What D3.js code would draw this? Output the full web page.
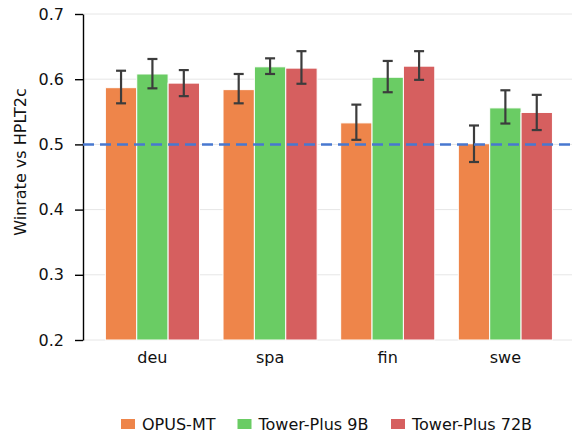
<!DOCTYPE html>
<html>
    <head>
        <meta charset="utf-8" />
        <title>Winrate vs HPLT2c</title>
        <script src="https://d3js.org/d3.v7.min.js"></script>
        <style>
            body { margin: 0; background: white; }
            text { font-family: "DejaVu Sans", sans-serif; }
        </style>
    </head>
    <body>
        <svg width="573" height="434" id="chart"></svg>

        <script>
            // categories and series
            var languages = ["deu", "spa", "fin", "swe"];
            var models = ["OPUS-MT", "Tower-Plus 9B", "Tower-Plus 72B"];
            var modelColors = ["#ee854a", "#6acc64", "#d65f5f"];

            var opusMean = [0.587, 0.584, 0.533, 0.501];
            var opusLow  = [0.563, 0.563, 0.507, 0.473];
            var opusHigh = [0.613, 0.608, 0.561, 0.529];

            var tp9Mean = [0.608, 0.619, 0.603, 0.556];
            var tp9Low  = [0.586, 0.608, 0.580, 0.532];
            var tp9High = [0.631, 0.632, 0.628, 0.583];

            var tp72Mean = [0.594, 0.617, 0.620, 0.549];
            var tp72Low  = [0.574, 0.593, 0.599, 0.522];
            var tp72High = [0.614, 0.643, 0.643, 0.576];

            var yTicks = [0.2, 0.3, 0.4, 0.5, 0.6, 0.7];
            var baseline = 0.5;

            // build rows for drawing
            var seriesMean = [opusMean, tp9Mean, tp72Mean];
            var seriesLow = [opusLow, tp9Low, tp72Low];
            var seriesHigh = [opusHigh, tp9High, tp72High];
            var rows = [];
            languages.forEach(function(lang, i) {
                models.forEach(function(m, j) {
                    rows.push({
                        lang: lang,
                        model: m,
                        value: seriesMean[j][i],
                        low: seriesLow[j][i],
                        high: seriesHigh[j][i]
                    });
                });
            });

            var svg = d3.select("#chart");
            // note: "top" is taken by window.top, so use plot* names
            var plotLeft = 83, plotRight = 572, plotTop = 14, plotBottom = 340;

            var y = d3.scaleLinear().domain([0.2, 0.7]).range([plotBottom, plotTop]);
            var x0 = d3.scaleBand().domain(languages).range([93.6, 564.2]);
            var bw = x0.bandwidth();
            var x1 = d3.scaleBand().domain(models).range([0.1 * bw, 0.9 * bw]);
            var color = d3.scaleOrdinal().domain(models).range(modelColors);

            // horizontal gridlines
            svg.append("g")
                .selectAll("line")
                .data(yTicks)
                .join("line")
                .attr("x1", plotLeft)
                .attr("x2", plotRight)
                .attr("y1", function(d) { return y(d); })
                .attr("y2", function(d) { return y(d); })
                .attr("stroke", "#e6e6e6")
                .attr("stroke-width", 1);

            // bars
            svg.append("g")
                .selectAll("rect")
                .data(rows)
                .join("rect")
                .attr("x", function(d) { return x0(d.lang) + x1(d.model); })
                .attr("width", x1.bandwidth())
                .attr("y", function(d) { return y(d.value); })
                .attr("height", function(d) { return y(0.2) - y(d.value); })
                .attr("fill", function(d) { return color(d.model); })
                .attr("stroke", "white")
                .attr("stroke-width", 1);

            // error bars
            var err = svg.append("g")
                .attr("stroke", "#3c3c3c")
                .attr("stroke-width", 2.2);
            var cx = function(d) { return x0(d.lang) + x1(d.model) + x1.bandwidth() / 2; };

            err.selectAll("line.whisker")
                .data(rows)
                .join("line")
                .attr("class", "whisker")
                .attr("x1", cx).attr("x2", cx)
                .attr("y1", function(d) { return y(d.low); })
                .attr("y2", function(d) { return y(d.high); });

            err.selectAll("line.caplow")
                .data(rows)
                .join("line")
                .attr("class", "caplow")
                .attr("x1", function(d) { return cx(d) - 5; })
                .attr("x2", function(d) { return cx(d) + 5; })
                .attr("y1", function(d) { return y(d.low); })
                .attr("y2", function(d) { return y(d.low); });

            err.selectAll("line.caphigh")
                .data(rows)
                .join("line")
                .attr("class", "caphigh")
                .attr("x1", function(d) { return cx(d) - 5; })
                .attr("x2", function(d) { return cx(d) + 5; })
                .attr("y1", function(d) { return y(d.high); })
                .attr("y2", function(d) { return y(d.high); });

            // y axis
            var yAxis = svg.append("g")
                .attr("transform", "translate(" + plotLeft + ",0)")
                .call(d3.axisLeft(y)
                    .tickValues(yTicks)
                    .tickFormat(d3.format(".1f"))
                    .tickSize(8)
                    .tickSizeOuter(0)
                    .tickPadding(11));
            yAxis.select(".domain").attr("stroke", "#000").attr("stroke-width", 1.4);
            yAxis.selectAll(".tick line").attr("stroke", "#000").attr("stroke-width", 1.4);
            yAxis.selectAll("text")
                .attr("font-size", "16px")
                .attr("font-family", "DejaVu Sans")
                .attr("fill", "#111");

            // x axis (labels only)
            var xAxis = svg.append("g")
                .attr("transform", "translate(0," + plotBottom + ")")
                .call(d3.axisBottom(x0).tickSize(0).tickPadding(11.6));
            xAxis.select(".domain").remove();
            xAxis.selectAll("text")
                .attr("font-size", "16px")
                .attr("font-family", "DejaVu Sans")
                .attr("fill", "#111");

            // reference line at 0.5
            svg.append("line")
                .attr("x1", plotLeft)
                .attr("x2", 573)
                .attr("y1", y(baseline))
                .attr("y2", y(baseline))
                .attr("stroke", "#4878d0")
                .attr("stroke-width", 2.5)
                .attr("stroke-dasharray", "11,6");

            // y label
            svg.append("text")
                .attr("transform", "translate(26,162) rotate(-90)")
                .attr("text-anchor", "middle")
                .attr("font-size", "16px")
                .attr("fill", "#111")
                .text("Winrate vs HPLT2c");

            // legend
            var legendX = [121, 237.5, 391];
            var legend = svg.append("g")
                .selectAll("g")
                .data(models)
                .join("g")
                .attr("transform", function(d, i) { return "translate(" + legendX[i] + ",419)"; });
            legend.append("rect")
                .attr("width", 14)
                .attr("height", 10)
                .attr("fill", function(d) { return color(d); });
            legend.append("text")
                .attr("x", 21)
                .attr("y", 11)
                .attr("font-size", "16px")
                .attr("fill", "#111")
                .text(function(d) { return d; });
        </script>
    </body>
</html>
